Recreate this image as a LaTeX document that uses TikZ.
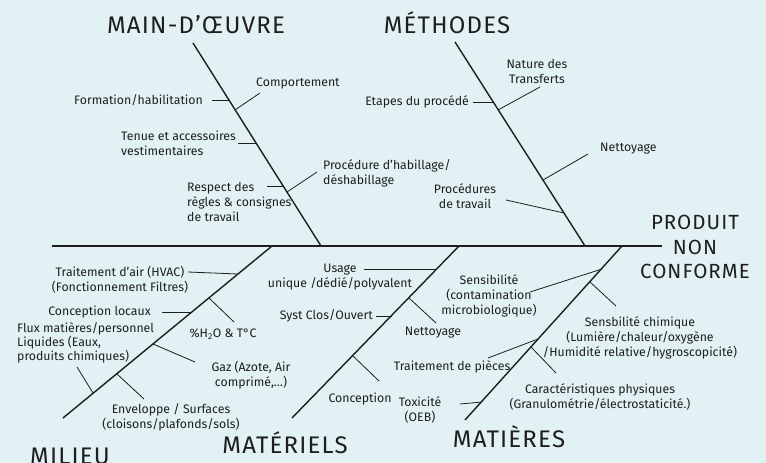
\documentclass[tikz,border=0pt]{standalone}
\usepackage{fontspec}
\setmainfont{Fira Sans}
\newfontfamily\headfont[LetterSpace=5]{Fira Sans}
\definecolor{bgblue}{HTML}{E2F1F4}
\definecolor{ink}{HTML}{1E1E1E}

\begin{document}
\begin{tikzpicture}[x=1pt,y=-1pt,
    lbl/.style={font=\fontsize{12.3}{15}\selectfont,text=ink,inner sep=0pt,align=center},
    head/.style={font=\headfont\fontsize{24}{26}\selectfont,text=ink,inner sep=0pt},
    spine/.style={ink,line width=2pt},
    bone/.style={ink,line width=1.4pt},
    twig/.style={ink,line width=0.8pt}]
  \fill[bgblue] (0,0) rectangle (766,463);
  \useasboundingbox (0,0) rectangle (766,463);
  % spine and effect
  \coordinate (spL) at (52,246);
  \coordinate (spR) at (662,246);
  \draw[spine] (spL) -- (spR);
  \node[head,align=center,font=\headfont\fontsize{20.5}{24.5}\selectfont] (effet) at (695,247) {PRODUIT\\NON\\CONFORME};
  % main bones
  \coordinate (moT) at (193,43);   \coordinate (moB) at (321,246);
  \coordinate (meT) at (455,42);   \coordinate (meB) at (585,246);
  \coordinate (miT) at (272,246);  \coordinate (miB) at (63,418);
  \coordinate (maT) at (459,246);  \coordinate (maB) at (292,418);
  \coordinate (mtT) at (622,246);  \coordinate (mtB) at (465,420);
  \draw[bone] (moT) -- (moB);
  \draw[bone] (meT) -- (meB);
  \draw[bone] (miT) -- (miB);
  \draw[bone] (maT) -- (maB);
  \draw[bone] (mtT) -- (mtB);
  \node[head] (mainoeuvre) at (196,25) {MAIN-D’ŒUVRE};
  \node[head] (methodes) at (447,23) {MÉTHODES};
  \node[head] (milieu) at (70,456) {MILIEU};
  \node[head] (materiels) at (285,443) {MATÉRIELS};
  \node[head] (matieres) at (509,437) {MATIÈRES};
  % main-d'oeuvre
  \node[lbl,anchor=east] (mo1) at (203,100) {Formation/habilitation};
  \coordinate (mo1a) at (229,100); \coordinate (mo1b) at (212,100);
  \draw[twig] (mo1a) -- (mo1b);
  \node[lbl,anchor=west] (mo2) at (256,83) {Comportement};
  \coordinate (mo2a) at (235,110); \coordinate (mo2b) at (260,93);
  \draw[twig] (mo2a) -- (mo2b);
  \node[lbl,anchor=west,align=left] (mo3) at (121,143.5) {Tenue et accessoires\\vestimentaires};
  \coordinate (mo3a) at (256,143); \coordinate (mo3b) at (238,143);
  \draw[twig] (mo3a) -- (mo3b);
  \node[lbl,anchor=west,align=left] (mo4) at (187,201.5) {Respect des\\règles \& consignes\\de travail};
  \coordinate (mo4a) at (283,186); \coordinate (mo4b) at (267,186);
  \draw[twig] (mo4a) -- (mo4b);
  \node[lbl,anchor=west,align=left] (mo5) at (323,173.5) {Procédure d’habillage/\\déshabillage};
  \coordinate (mo5a) at (287,192); \coordinate (mo5b) at (317,172);
  \draw[twig] (mo5a) -- (mo5b);
  % methodes
  \node[lbl] (me1) at (537,71.5) {Nature des\\Transferts};
  \coordinate (me1a) at (498,110); \coordinate (me1b) at (540,87);
  \draw[twig] (me1a) -- (me1b);
  \node[lbl,anchor=east] (me2) at (469,102) {Etapes du procédé};
  \coordinate (me2a) at (493,102); \coordinate (me2b) at (473,102);
  \draw[twig] (me2a) -- (me2b);
  \node[lbl,anchor=west] (me3) at (600,149) {Nettoyage};
  \coordinate (me3a) at (543,180); \coordinate (me3b) at (588,154);
  \draw[twig] (me3a) -- (me3b);
  \node[lbl] (me4) at (465,196.5) {Procédures\\de travail};
  \coordinate (me4a) at (564,213); \coordinate (me4b) at (506,200);
  \draw[twig] (me4a) -- (me4b);
  % milieu
  \node[lbl] (mi1) at (120,279.5) {Traitement d’air (HVAC)\\(Fonctionnement Filtres)};
  \coordinate (mi1a) at (238,274); \coordinate (mi1b) at (188,272);
  \draw[twig] (mi1a) -- (mi1b);
  \node[lbl] (mi2) at (223,334) {\%H\textsubscript{2}O \& T°C};
  \coordinate (mi2a) at (209,298); \coordinate (mi2b) at (234,322);
  \draw[twig] (mi2a) -- (mi2b);
  \node[lbl,anchor=east] (mi3) at (151,312) {Conception locaux};
  \coordinate (mi3a) at (192,312); \coordinate (mi3b) at (162,312);
  \draw[twig] (mi3a) -- (mi3b);
  \node[lbl,anchor=west,align=left,font=\fontsize{12.3}{14}\selectfont] (mi4) at (17,343) {Flux matières/personnel\\Liquides (Eaux,\\produits chimiques)};
  \coordinate (mi4a) at (93,393); \coordinate (mi4b) at (77,367);
  \draw[twig] (mi4a) -- (mi4b);
  \node[lbl] (mi5) at (251,375.5) {Gaz (Azote, Air\\comprimé,…)};
  \coordinate (mi5a) at (153,344); \coordinate (mi5b) at (195,362);
  \draw[twig] (mi5a) -- (mi5b);
  \node[lbl] (mi6) at (171,417.5) {Enveloppe / Surfaces\\(cloisons/plafonds/sols)};
  \coordinate (mi6a) at (117,374); \coordinate (mi6b) at (144,399);
  \draw[twig] (mi6a) -- (mi6b);
  % materiels
  \node[lbl] (ma1) at (340,277) {Usage\\unique /dédié/polyvalent};
  \coordinate (ma1a) at (437,269); \coordinate (ma1b) at (364,269);
  \draw[twig] (ma1a) -- (ma1b);
  \node[lbl] (ma2) at (433,333) {Nettoyage};
  \coordinate (ma2a) at (409,298); \coordinate (ma2b) at (436,323);
  \draw[twig] (ma2a) -- (ma2b);
  \node[lbl,anchor=east] (ma3) at (373,316) {Syst Clos/Ouvert};
  \coordinate (ma3a) at (392,316); \coordinate (ma3b) at (376,316);
  \draw[twig] (ma3a) -- (ma3b);
  \node[lbl] (ma4) at (360,399) {Conception};
  \coordinate (ma4a) at (353,356); \coordinate (ma4b) at (379,381);
  \draw[twig] (ma4a) -- (ma4b);
  % matieres
  \node[lbl] (mt1) at (489,296) {Sensibilité\\(contamination\\microbiologique)};
  \coordinate (mt1a) at (602,269); \coordinate (mt1b) at (530,292);
  \draw[twig] (mt1a) -- (mt1b);
  \node[lbl] (mt2) at (640,337.5) {Sensbilité chimique\\(Lumière/chaleur/oxygène\\/Humidité relative/hygroscopicité)};
  \coordinate (mt2a) at (590,282); \coordinate (mt2b) at (616,306);
  \draw[twig] (mt2a) -- (mt2b);
  \node[lbl] (mt3) at (452,367) {Traitement de pièces};
  \coordinate (mt3a) at (538,339); \coordinate (mt3b) at (488,358);
  \draw[twig] (mt3a) -- (mt3b);
  \node[lbl] (mt4) at (600,396.5) {Caractéristiques physiques\\(Granulométrie/électrostaticité.)};
  \coordinate (mt4a) at (531,347); \coordinate (mt4b) at (556,373);
  \draw[twig] (mt4a) -- (mt4b);
  \node[lbl] (mt5) at (420,409.5) {Toxicité\\(OEB)};
  \coordinate (mt5a) at (482,402); \coordinate (mt5b) at (460,404);
  \draw[twig] (mt5a) -- (mt5b);
\end{tikzpicture}
\end{document}
